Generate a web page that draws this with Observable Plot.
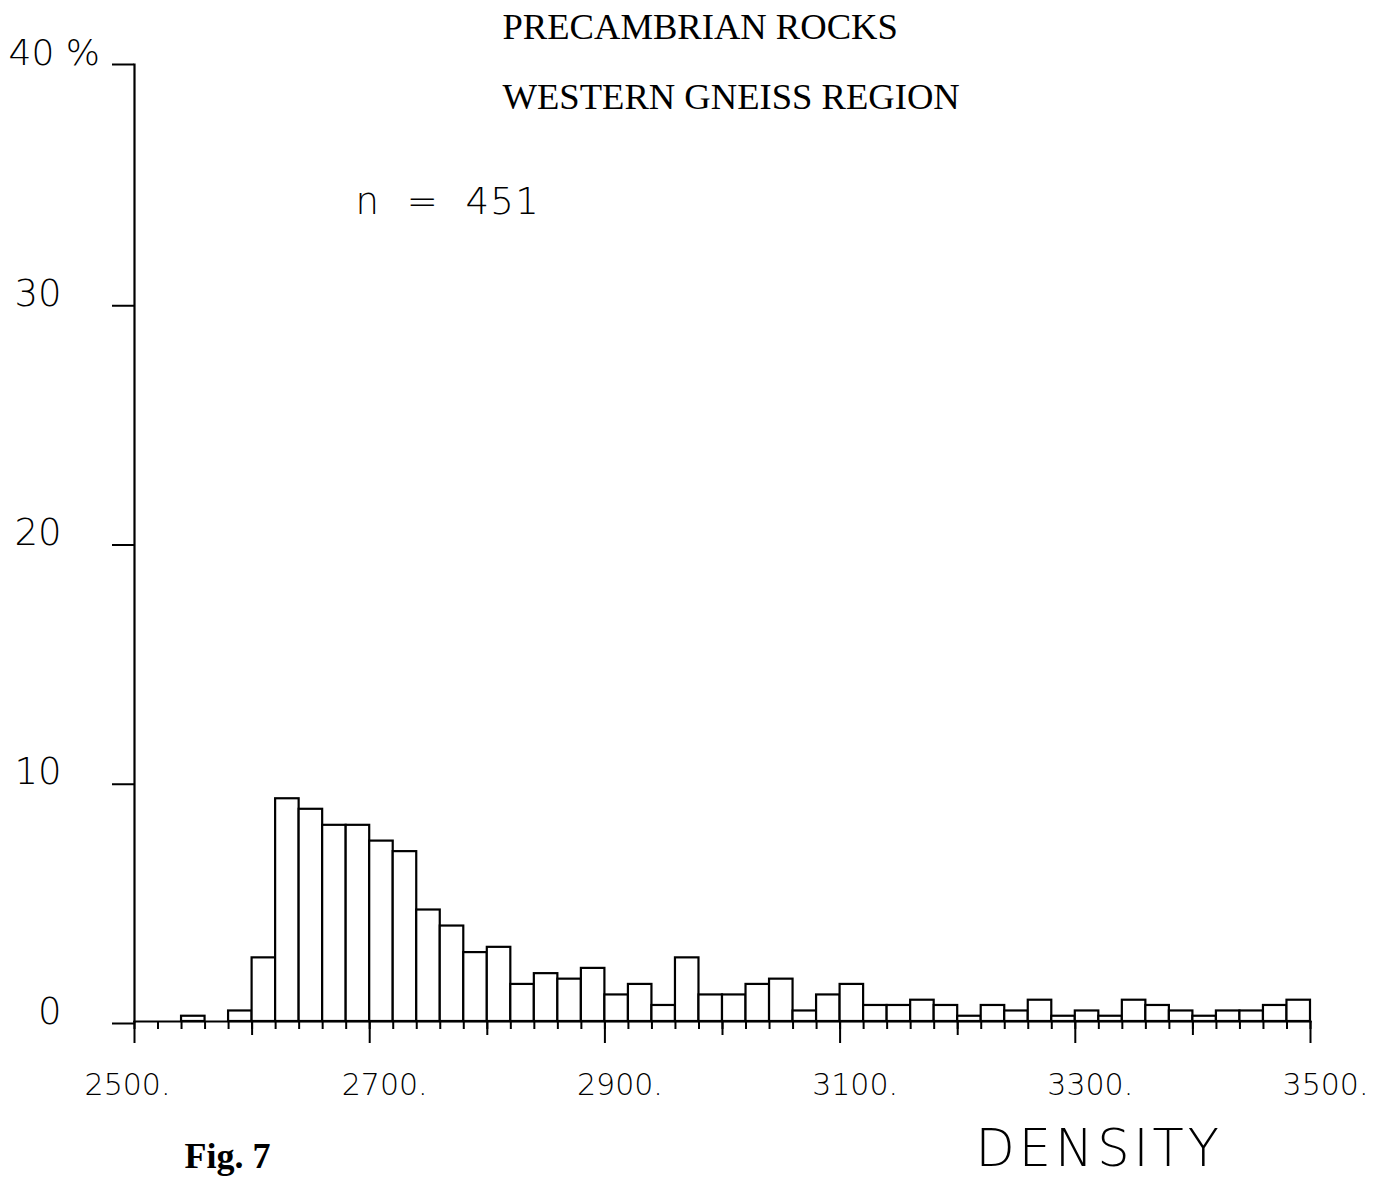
<!DOCTYPE html>
<html>
<head>
<meta charset="utf-8">
<script src="https://cdn.jsdelivr.net/npm/d3@7"></script>
<script src="https://cdn.jsdelivr.net/npm/@observablehq/plot@0.6"></script>
<style>
  html, body { margin: 0; padding: 0; background: #fff; }
  #chart svg { display: block; background: #fff; }
  .xtitle text { letter-spacing: 4px; }
  .nlabel text { letter-spacing: 1.4px; }
</style>
</head>
<body>
<div id="chart"></div>
<script>
// ---- data ----
const titleLines = ["PRECAMBRIAN ROCKS", "WESTERN GNEISS REGION"];
const sampleLabel = "n\u00a0\u00a0=\u00a0\u00a0451";
const xTitle = "DENSITY";
const figLabel = "Fig. 7";

// left edge of each 20-unit density class
const binStart = [
  2500, 2520, 2540, 2560, 2580, 2600, 2620, 2640, 2660, 2680,
  2700, 2720, 2740, 2760, 2780, 2800, 2820, 2840, 2860, 2880,
  2900, 2920, 2940, 2960, 2980, 3000, 3020, 3040, 3060, 3080,
  3100, 3120, 3140, 3160, 3180, 3200, 3220, 3240, 3260, 3280,
  3300, 3320, 3340, 3360, 3380, 3400, 3420, 3440, 3460, 3480
];
const binWidth = 20;
// percentage of samples in each class
const percent = [
  0, 0, 0.22, 0, 0.44, 2.66, 9.31, 8.87, 8.20, 8.20,
  7.54, 7.10, 4.66, 3.99, 2.88, 3.10, 1.55, 2.00, 1.77, 2.22,
  1.11, 1.55, 0.67, 2.66, 1.11, 1.11, 1.55, 1.77, 0.44, 1.11,
  1.55, 0.67, 0.67, 0.89, 0.67, 0.22, 0.67, 0.44, 0.89, 0.22,
  0.44, 0.22, 0.89, 0.67, 0.44, 0.22, 0.44, 0.44, 0.67, 0.89
];
const xMinorTicks = [
  2500, 2520, 2540, 2560, 2580, 2600, 2620, 2640, 2660, 2680,
  2700, 2720, 2740, 2760, 2780, 2800, 2820, 2840, 2860, 2880,
  2900, 2920, 2940, 2960, 2980, 3000, 3020, 3040, 3060, 3080,
  3100, 3120, 3140, 3160, 3180, 3200, 3220, 3240, 3260, 3280,
  3300, 3320, 3340, 3360, 3380, 3400, 3420, 3440, 3460, 3480, 3500
];
const xMidTicks = [2600, 2800, 3000, 3200, 3400];
const xMajorTicks = [2500, 2700, 2900, 3100, 3300, 3500];
const yTicks = [0, 10, 20, 30];
const yTopTick = [40];
const yTopLabel = "40 %";

const bins = binStart.map((s, i) => ({x1: s, x2: s + binWidth, pct: percent[i]}));

const thin = "'DejaVu Sans', 'Noto Sans', sans-serif";
const serif = "'Liberation Serif', 'Times New Roman', serif";

const chart = Plot.plot({
  width: 1391,
  height: 1179,
  marginLeft: 134,
  marginRight: 81,
  marginTop: 64,
  marginBottom: 158,
  style: {fontFamily: thin, background: "#fff", color: "#000", overflow: "visible"},
  x: {domain: [2500, 3500]},
  y: {domain: [0, 40]},
  marks: [
    Plot.rectY(bins, {x1: "x1", x2: "x2", y: "pct", fill: "white", stroke: "black", strokeWidth: 2.2}),
    Plot.frame({anchor: "left", stroke: "black", strokeWidth: 2.2}),
    Plot.frame({anchor: "bottom", stroke: "black", strokeWidth: 2.2}),
    // x ticks
    Plot.axisX({anchor: "bottom", ticks: xMinorTicks, tickSize: 8, tickFormat: () => "", label: null, strokeWidth: 2}),
    Plot.axisX({anchor: "bottom", ticks: xMidTicks, tickSize: 14, tickFormat: () => "", label: null, strokeWidth: 2}),
    Plot.axisX({anchor: "bottom", ticks: xMajorTicks, tickSize: 22, tickFormat: () => "", label: null, strokeWidth: 2}),
    Plot.axisX({anchor: "bottom", ticks: xMajorTicks.slice(1), tickSize: 0, tickPadding: 73,
      tickFormat: d => d + ".", label: null, lineAnchor: "bottom", dx: 15,
      fontSize: 30, fontWeight: 200, fontFamily: thin}),
    Plot.axisX({anchor: "bottom", ticks: xMajorTicks.slice(0, 1), tickSize: 0, tickPadding: 73,
      tickFormat: d => d + ".", label: null, lineAnchor: "bottom", dx: -7,
      fontSize: 30, fontWeight: 200, fontFamily: thin}),
    // y ticks
    Plot.axisY({anchor: "left", ticks: yTicks, tickSize: 22, tickPadding: 51, label: null,
      lineAnchor: "bottom", dy: 2, fontSize: 37, fontWeight: 200, fontFamily: thin, strokeWidth: 2}),
    Plot.axisY({anchor: "left", ticks: yTopTick, tickSize: 22, tickPadding: 104, label: null,
      textAnchor: "start", tickFormat: () => yTopLabel,
      lineAnchor: "bottom", dy: 0, fontSize: 36, fontWeight: 200, fontFamily: thin, strokeWidth: 2}),
    // titles / annotations
    Plot.text([titleLines[0]], {text: d => d, frameAnchor: "top-left", dx: 368, dy: -26,
      textAnchor: "start", lineAnchor: "bottom", fontFamily: serif, fontSize: 36.6}),
    Plot.text([titleLines[1]], {text: d => d, frameAnchor: "top-left", dx: 368, dy: 44,
      textAnchor: "start", lineAnchor: "bottom", fontFamily: serif, fontSize: 36.6}),
    Plot.text([sampleLabel], {text: d => d, frameAnchor: "top-left", dx: 221, dy: 149,
      textAnchor: "start", lineAnchor: "bottom", fontFamily: thin, fontWeight: 200, fontSize: 37,
      className: "nlabel"}),
    Plot.text([xTitle], {text: d => d, frameAnchor: "bottom-left", dx: 841, dy: 144,
      textAnchor: "start", lineAnchor: "bottom", fontFamily: thin, fontWeight: 200, fontSize: 51,
      className: "xtitle"}),
    Plot.text([figLabel], {text: d => d, frameAnchor: "bottom-left", dx: 50, dy: 146,
      textAnchor: "start", lineAnchor: "bottom", fontFamily: serif, fontWeight: "bold", fontSize: 36})
  ]
});

document.getElementById("chart").appendChild(chart);
</script>
</body>
</html>
